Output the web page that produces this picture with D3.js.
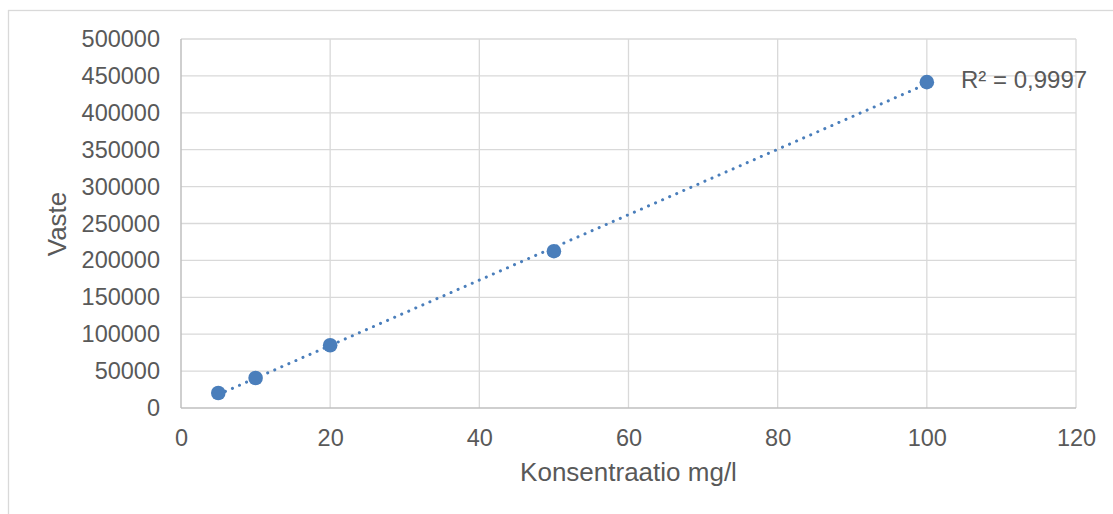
<!DOCTYPE html>
<html><head><meta charset="utf-8">
<script src="https://cdn.jsdelivr.net/npm/d3@7"></script>
<style>
html,body{margin:0;padding:0;background:#fff;}
svg{display:block;font-family:"Liberation Sans",Arial,sans-serif;}
</style></head>
<body><svg id="c" width="1113" height="514"></svg>
<script>
const concentrations = [5, 10, 20, 50, 100];
const responses = [20300, 40700, 85000, 212500, 441500];
const xTicks = [0, 20, 40, 60, 80, 100, 120];
const yTicks = [0, 50000, 100000, 150000, 200000, 250000, 300000, 350000, 400000, 450000, 500000];
const xTitle = "Konsentraatio mg/l";
const yTitle = "Vaste";
const r2Label = "R² = 0,9997";

const svg = d3.select("#c");
const color = "#4a7ebb";
const grid = "#d9d9d9";
const textColor = "#595959";

// chart area border
svg.append("rect").attr("x", 8.5).attr("y", 10.5).attr("width", 1120).attr("height", 520)
  .attr("fill", "#fff").attr("stroke", grid).attr("stroke-width", 1.3);

const x = d3.scaleLinear().domain([0, 120]).range([181, 1076]);
const y = d3.scaleLinear().domain([0, 500000]).range([408, 39]);

// gridlines
svg.append("g").selectAll("line").data(yTicks.filter(d => d > 0)).join("line")
  .attr("x1", x(0)).attr("x2", x(120)).attr("y1", d => y(d)).attr("y2", d => y(d))
  .attr("stroke", grid).attr("stroke-width", 1.3);
svg.append("g").selectAll("line").data(xTicks.filter(d => d > 0)).join("line")
  .attr("y1", y(0)).attr("y2", y(500000)).attr("x1", d => x(d)).attr("x2", d => x(d))
  .attr("stroke", grid).attr("stroke-width", 1.3);

// axes
const xAxis = svg.append("g").attr("transform", `translate(0,${y(0)})`)
  .call(d3.axisBottom(x).tickValues(xTicks).tickSize(0).tickPadding(21).tickFormat(d3.format("d")));
const yAxis = svg.append("g").attr("transform", `translate(${x(0)},0)`)
  .call(d3.axisLeft(y).tickValues(yTicks).tickSize(0).tickPadding(21).tickFormat(d3.format("d")));
[xAxis, yAxis].forEach(g => {
  g.select(".domain").attr("stroke", "#bfbfbf").attr("stroke-width", 1.5);
  g.selectAll("text").attr("fill", textColor).attr("font-size", "23.5px")
    .attr("font-family", "Liberation Sans, Arial, sans-serif");
});
// extend y-domain line to full
yAxis.select(".domain").attr("d", `M0,${y(500000)}V${y(0)}`);
xAxis.select(".domain").attr("d", `M0,0H${x(120) - 0}`).attr("transform", `translate(0,0)`);
xAxis.select(".domain").attr("d", `M${x(0)},0H${x(120)}`);

// linear trendline (least squares)
const n = concentrations.length;
const mx = d3.mean(concentrations), my = d3.mean(responses);
const slope = d3.sum(concentrations.map((c, i) => (c - mx) * (responses[i] - my))) /
  d3.sum(concentrations.map(c => (c - mx) ** 2));
const intercept = my - slope * mx;
const x0 = d3.min(concentrations), x1 = d3.max(concentrations);
svg.append("line")
  .attr("x1", x(x0)).attr("y1", y(intercept + slope * x0))
  .attr("x2", x(x1)).attr("y2", y(intercept + slope * x1))
  .attr("stroke", color).attr("stroke-width", 3).attr("stroke-linecap", "round")
  .attr("stroke-dasharray", "0.1 7.6");

// points
svg.append("g").selectAll("circle").data(concentrations).join("circle")
  .attr("cx", d => x(d)).attr("cy", (d, i) => y(responses[i])).attr("r", 7.3)
  .attr("fill", color);

// R² label
svg.append("text").attr("x", 961).attr("y", 88).text(r2Label)
  .attr("fill", textColor).attr("font-size", "24px");

// titles
svg.append("text").attr("x", (x(0) + x(120)) / 2).attr("y", 481).attr("text-anchor", "middle")
  .attr("fill", textColor).attr("font-size", "26px").text(xTitle);
svg.append("text").attr("transform", `translate(66,224) rotate(-90)`).attr("text-anchor", "middle")
  .attr("fill", textColor).attr("font-size", "26px").text(yTitle);
</script></body></html>
